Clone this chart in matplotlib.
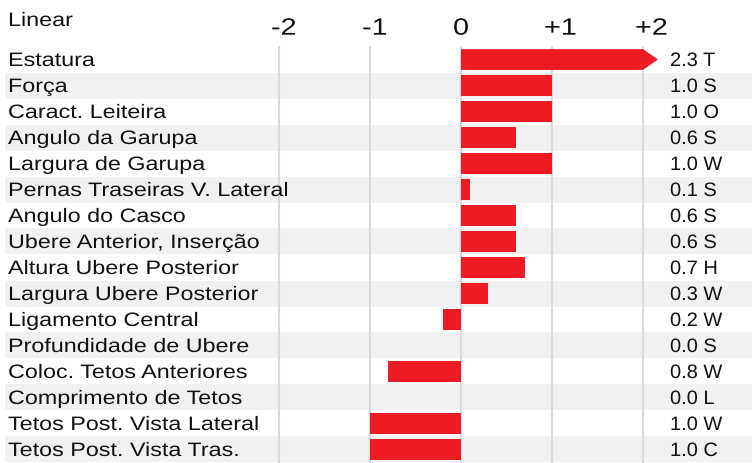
import matplotlib
matplotlib.use("Agg")
import matplotlib.pyplot as plt
from matplotlib.patches import Polygon
from matplotlib.patheffects import AbstractPathEffect
from matplotlib.transforms import Affine2D

categories = ["Estatura", "Força", "Caract. Leiteira", "Angulo da Garupa",
              "Largura de Garupa", "Pernas Traseiras V. Lateral", "Angulo do Casco",
              "Ubere Anterior, Inserção", "Altura Ubere Posterior",
              "Largura Ubere Posterior", "Ligamento Central", "Profundidade de Ubere",
              "Coloc. Tetos Anteriores", "Comprimento de Tetos",
              "Tetos Post. Vista Lateral", "Tetos Post. Vista Tras."]
values = [2.3, 1.0, 1.0, 0.6, 1.0, 0.1, 0.6, 0.6, 0.7, 0.3, -0.2, 0.0, -0.8, 0.0, -1.0, -1.0]
codes = ["T", "S", "O", "S", "W", "S", "S", "S", "H", "W", "W", "S", "W", "L", "W", "C"]
tick_vals = [-2, -1, 0, 1, 2]
tick_labels = ["-2", "-1", "0", "+1", "+2"]
axis_max = 2.0


class StretchX(AbstractPathEffect):
    """Draw text glyphs widened horizontally (text stays a Text artist)."""

    def __init__(self, sx):
        super().__init__()
        self.sx = sx

    def draw_path(self, renderer, gc, tpath, affine, rgbFace=None):
        pre = Affine2D().scale(self.sx, 1)
        renderer.draw_path(gc, tpath, pre + affine, rgbFace)


plt.rcParams['font.family'] = ['Liberation Sans', 'DejaVu Sans']

W, H = 752, 464
fig = plt.figure(figsize=(W / 100, H / 100), dpi=100)
ax = fig.add_axes([0, 0, 1, 1])
x0_px, unit = 461.0, 91.0
ax.set_xlim(-x0_px / unit, (W - x0_px) / unit)
row0_px, row_h = 60.5, 26.0
ax.set_ylim((H - row0_px) / row_h, -row0_px / row_h)
ax.axis('off')


def py(p):
    return (p - row0_px) / row_h


def px(p):
    return (p - x0_px) / unit


red = '#ed1c24'
shade = '#f0f1f0'
grid = '#d9d9d9'
tcol = '#111111'
n = len(categories)

lab_fs, lab_sx = 14, 1.2
val_fs, val_sx = 14, 1.03
tick_fs, tick_sx = 17, 1.22

for i in range(n):
    if i % 2 == 1:
        ax.axhspan(i - 0.5, i + 0.5, xmin=5.0 / W, xmax=1, color=shade, lw=0, zorder=0)

for t in tick_vals:
    ax.plot([t, t], [py(47), n + 1], color=grid, lw=1.5, zorder=1, solid_capstyle='butt')
for t, lab in zip(tick_vals, tick_labels):
    ax.text(t - 8 / unit, py(35.7), lab, ha='left', va='baseline', fontsize=tick_fs, color=tcol,
            path_effects=[StretchX(tick_sx)])

ax.text(px(8), py(27), "Linear", ha='left', va='baseline', fontsize=lab_fs, color=tcol,
        path_effects=[StretchX(lab_sx)])

bh = 0.8
for i, (v, c, cat) in enumerate(zip(values, codes, categories)):
    if v > axis_max:
        tip = axis_max + 15 / unit
        poly = Polygon([[0, i - bh / 2], [axis_max, i - bh / 2], [tip, i],
                        [axis_max, i + bh / 2], [0, i + bh / 2]],
                       closed=True, facecolor=red, edgecolor='none', zorder=3)
        ax.add_patch(poly)
    else:
        ax.barh(i, v, height=bh, color=red, zorder=3, lw=0)
    ax.text(px(8), i + 6.5 / row_h, cat, ha='left', va='baseline', fontsize=lab_fs, color=tcol,
            path_effects=[StretchX(lab_sx)])
    ax.text(px(670), i + 6.5 / row_h, f"{abs(v):.1f} {c}", ha='left', va='baseline',
            fontsize=val_fs, color=tcol, path_effects=[StretchX(val_sx)])

fig.savefig("out.png", dpi=100)
